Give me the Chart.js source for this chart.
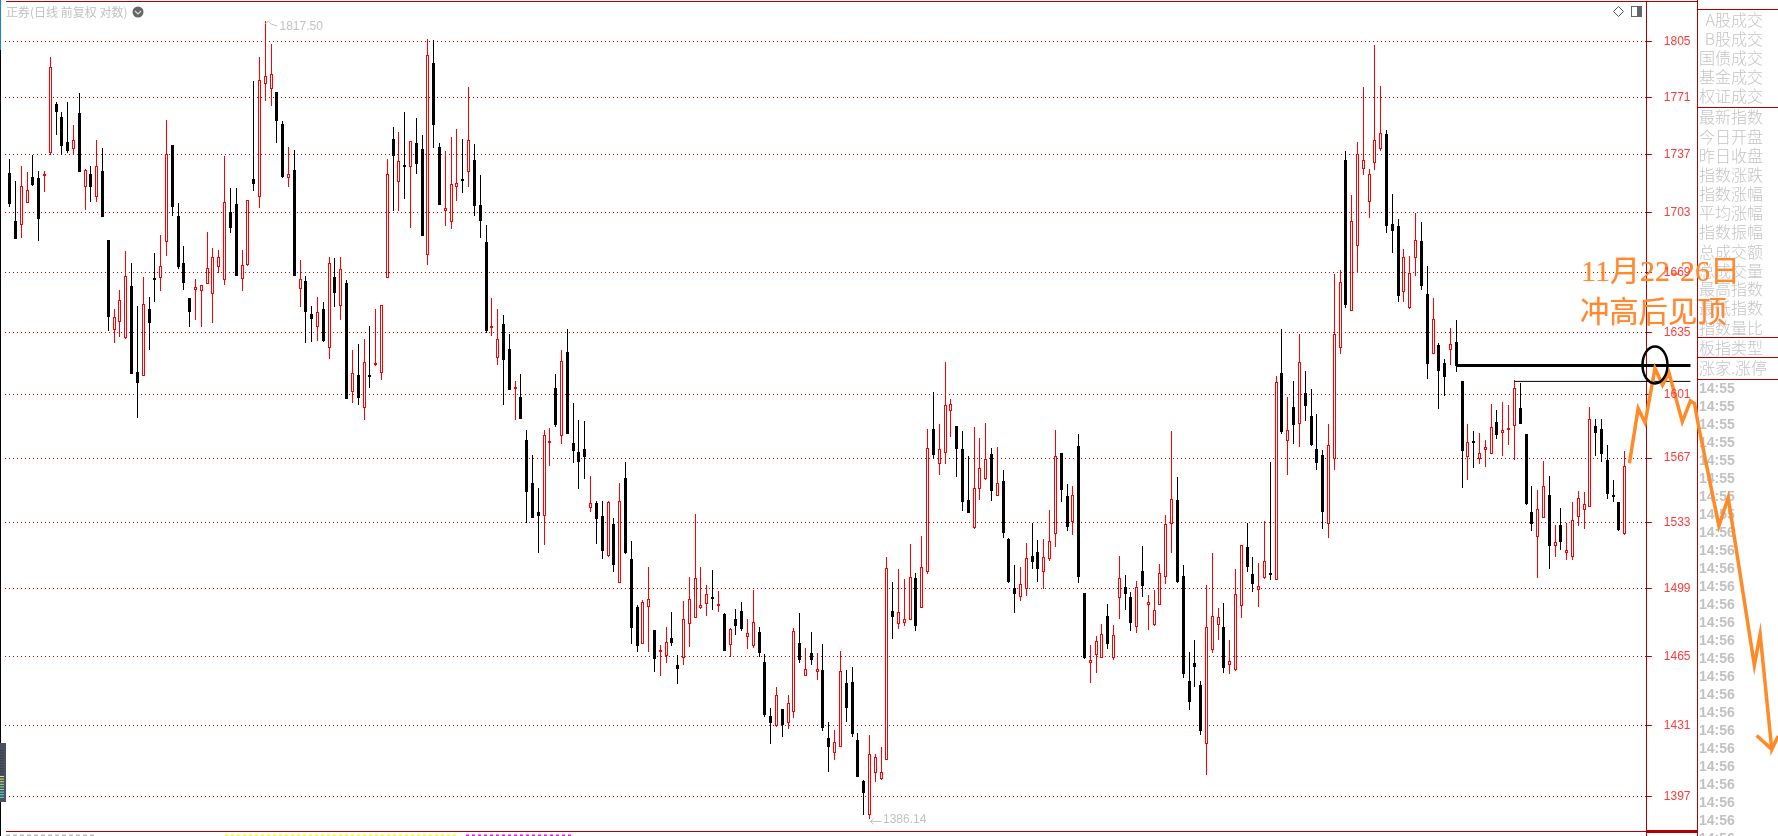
<!DOCTYPE html>
<html><head><meta charset="utf-8">
<script src="https://cdn.jsdelivr.net/npm/chart.js@4"></script>
<style>html,body{margin:0;padding:0;background:#fff;overflow:hidden}canvas{display:block}</style>
</head><body><canvas id="c" width="1778" height="836"></canvas>
<script>
const highs=[1734.3,1721.5,1730.2,1726.7,1736.9,1727.3,1727.3,1795.4,1768.2,1762.2,1768.2,1754.5,1773.6,1728.4,1730.2,1745.6,1740.8,1687.4,1648.3,1658.9,
1681.1,1674.2,1650,1666.3,1655,1679.9,1690.2,1757.5,1742.6,1708.7,1683.9,1654.4,1665.1,1661.8,1692,1682.8,1681.7,1736.1,1717.4,1717.4,
1681.7,1710.2,1780.9,1795.4,1817.5,1803.4,1774.4,1756.9,1741.4,1739.7,1675.9,1666.8,1650,1655,1652.2,1677.6,1677,1677.6,1664.6,1625.5,
1628.8,1631.6,1638.8,1648.3,1650.5,1734.3,1753.3,1750.3,1762.2,1744.8,1758.7,1748.5,1806.4,1805.8,1743.8,1739.1,1747.3,1752.1,1746.2,1777.2,
1743.2,1725,1696,1654.4,1648.3,1644.9,1634.3,1608.5,1612.3,1582,1568.6,1551.1,1582,1583,1612.3,1625.5,1637.1,1596.5,1587.4,1586.8,
1557.5,1544.3,1544.3,1544.3,1535.5,1553.8,1564.9,1523.5,1490.8,1493.3,1510.1,1478.2,1470.7,1479.7,1487.3,1465.7,1492.8,1505,1537.5,1510.1,
1500.9,1508.6,1497.9,1486.8,1479.2,1488.8,1492.3,1483.7,1498.4,1479.7,1466.2,1439.6,1449.9,1439.1,1445.9,1479.2,1486.8,1469.2,1477.2,1466.7,
1471.2,1432.7,1428.8,1467.7,1458.3,1459.7,1427.4,1404.8,1426.4,1417.3,1420.6,1515.3,1502.5,1509.1,1504,1522,1507.1,1526.1,1582.5,1602.5,
1585.2,1618.9,1598.6,1584.1,1581.4,1568.1,1583.7,1577.7,1585.7,1572.4,1572.9,1560.6,1525.1,1511.2,1510.1,1522.5,1532.9,1524.1,1524.6,1539.6,
1582,1569.7,1553.3,1552.2,1579.8,1496.8,1470.7,1475.2,1481.2,1491.3,1480.7,1515.8,1506,1497.4,1503,1521,1495.9,1498.4,1511.6,1537,
1581.4,1556.9,1511.2,1467.2,1473.2,1452.8,1500.9,1517.3,1489.3,1491.8,1473.2,1509.1,1521.5,1532.9,1515.3,1512.2,1533.9,1564.9,1611.2,1637.1,
1599.7,1608.5,1634.3,1613.9,1604.1,1590.6,1571.3,1585.2,1668,1670.2,1739.1,1713.3,1744.4,1777.2,1728.4,1802.8,1777.8,1751.5,1713.9,1699.4,
1682.2,1678.2,1702.9,1697.7,1672.5,1654.4,1629.4,1620.5,1637.7,1642.1,1608.5,1585.2,1581.4,1580.4,1576.6,1596,1592.7,1597,1595.4,1609,
1607.2,1579.8,1552.2,1550.1,1565.4,1557.5,1531.9,1540.6,1533,1543.8,1549.5,1549,1594.3,1587.9,1587.9,1574,1555.4,1543.8,1570.8];
const bodyTops=[1726.1,1698.3,1718.4,1716,1723.8,1723.2,1725,1789.1,1767,1759.3,1744.4,1745.4,1761.6,1728.2,1725.5,1730,1727.3,1687.4,1643.8,1653.1,
1666.6,1661.2,1613.4,1650.9,1648.3,1665.1,1672.3,1737.3,1742.6,1701.2,1674.5,1654.4,1660.8,1661.6,1671.2,1677.4,1677.6,1709.1,1703.5,1708.1,
1673,1710.2,1722.6,1781.3,1783.7,1784.9,1774.4,1755.1,1725.3,1727.9,1665,1664,1645.5,1646.4,1648.3,1674.3,1666.3,1670.6,1662.9,1612.7,
1611.7,1618.7,1611.2,1618.1,1650.3,1725.3,1746.2,1733,1730.8,1744.8,1743.8,1740.2,1796.4,1791.7,1741.4,1705.6,1719.5,1720.1,1722,1745.4,
1733.7,1707.5,1686.2,1638.2,1631.4,1639.9,1626,1605,1599.7,1576.6,1553.8,1538.6,1579.3,1576.1,1604.6,1619.2,1624.4,1575,1570.2,1571.8,
1543.1,1543.1,1536.5,1543.8,1532.3,1544.3,1556.4,1514.2,1489.8,1492.3,1493.6,1478.2,1468.2,1472,1474.2,1460.7,1483.5,1493.6,1504.3,1490.6,
1496.2,1494.8,1491.3,1486.2,1478.5,1483.7,1487.8,1476.5,1482,1477.2,1462.2,1435.7,1445.8,1439.1,1441.9,1477.7,1471.7,1458.6,1466.7,1458.6,
1458.3,1425,1422.9,1457.6,1451.9,1452.4,1424,1404.4,1417.1,1415.7,1408.5,1509.4,1487.6,1487.1,1483.5,1504.9,1504.3,1510,1572.2,1582.5,
1571.7,1595.4,1595.8,1584.1,1571.8,1544.8,1550.9,1561.5,1566.3,1569.2,1553.6,1554.8,1524.6,1499.4,1501.3,1514.6,1515.8,1517.9,1515.1,1523.4,
1567.9,1569.7,1546.9,1547.3,1573.4,1496.8,1463,1472.5,1476,1485.2,1475.5,1504.3,1499.9,1494.8,1499.7,1508.1,1492.1,1488.1,1506.9,1532.2,
1545.2,1544.8,1505.5,1452.8,1461.7,1450.9,1479.5,1485,1484.6,1479.7,1462.6,1496.2,1521.3,1520.5,1506.6,1500.3,1513,1506.6,1608.1,1612.7,
1581.8,1594.3,1618.7,1601.9,1589.5,1571.8,1568.6,1573.8,1634.3,1663.3,1733.7,1698.3,1737.1,1733.5,1725.3,1745.4,1749.5,1749.1,1696.6,1695.4,
1677.4,1668.3,1687.2,1686.8,1656.7,1642.5,1628.3,1618.1,1628.8,1630.1,1608.5,1575.4,1575.4,1569.5,1572.7,1583.4,1586.3,1582,1582.5,1604.5,
1593.6,1579.8,1538.6,1540,1552,1547.4,1522.9,1531.9,1518.9,1534.2,1545.7,1542.5,1587.7,1584.1,1582.5,1566,1546.9,1543.8,1562.8];
const bodyBottoms=[1708.3,1688.1,1696.2,1708.5,1719.1,1699.6,1724.6,1738.1,1762.2,1742.2,1739.1,1740.4,1726.7,1718.2,1718,1712.4,1700.6,1643.8,1636.7,1641.1,
1632.1,1612.3,1607.4,1611.4,1640.4,1664.6,1665.9,1686.4,1706.4,1671.9,1662.9,1646.6,1658.9,1658.6,1662.5,1656.9,1672.1,1664.8,1694.3,1666.8,
1665.3,1673.1,1719.7,1712.4,1779.3,1776.2,1756.9,1723.8,1723.4,1666.8,1659.7,1646.6,1642.7,1638.4,1630.5,1626.8,1657.3,1650.1,1598.6,1602.6,
1599.2,1594,1610.7,1617,1613,1665.9,1736.1,1721.1,1729.8,1729.8,1731.4,1689.7,1679,1754.5,1707.5,1704.3,1697.9,1717.8,1721.7,1726.9,
1706.9,1698.3,1636,1637.7,1621.3,1620,1603.6,1604.3,1587.9,1549.1,1535.5,1536.5,1536.5,1575,1584.7,1578.8,1579.8,1570.8,1564.9,1567.6,
1540.8,1534.9,1518.4,1515.8,1511.2,1502.1,1517.3,1479.2,1470.2,1471.4,1489.5,1463.7,1467.2,1465.4,1471.7,1458.8,1464.4,1481.4,1484.4,1489.3,
1491.5,1493.8,1490.3,1467.7,1470.9,1480.2,1478.5,1474.8,1470.2,1466.7,1436.2,1432.3,1430.6,1431.3,1432.1,1437.6,1463.2,1455.5,1463.2,1457.4,
1429.8,1420.6,1417.9,1420.8,1439.6,1426.9,1406.3,1398.6,1388.2,1408.3,1405.3,1414.6,1484.7,1481.4,1481.9,1483.4,1480.2,1489.4,1507.6,1568.6,
1563.6,1569.5,1592.4,1571.8,1543.8,1538.1,1530.3,1550.8,1555.9,1549.6,1546.9,1527.7,1502.5,1496.4,1494.8,1498.9,1512.7,1509.1,1507.7,1514.2,
1527.3,1550.1,1530.8,1533.4,1505,1464.2,1461.9,1465.7,1464.4,1471.2,1464.2,1494.5,1496.4,1481.7,1479.9,1500.4,1490.9,1480.7,1490.9,1505.2,
1532.2,1502.5,1456.3,1442.5,1459.7,1428.3,1421.9,1468.2,1480.9,1459.2,1460.9,1458.3,1490.4,1510.1,1501.2,1498.6,1504.3,1506,1503.7,1580.9,
1576.3,1584.7,1585,1594.9,1574,1564.4,1538.6,1532.1,1566.3,1626.8,1650.5,1647.3,1683.8,1728.4,1709.4,1732.2,1740.2,1695.4,1692.5,1655.6,
1658,1648.8,1677.2,1661.2,1617.8,1623.5,1613.9,1610.8,1625.5,1616.7,1570.8,1567.4,1575,1566.3,1571.5,1569.3,1579.3,1580.5,1582.1,1584.3,
1585.2,1542.9,1532.3,1525.8,1535.6,1521,1521.1,1523,1517.3,1515.1,1536.2,1539.8,1541,1580.5,1569.2,1548,1546.4,1529.2,1527.1];
const lows=[1706.6,1688.1,1688.5,1708.5,1718.5,1687,1715,1736.9,1748.5,1736.6,1737.8,1736.6,1726.7,1704.6,1709.3,1709.3,1700.6,1636,1629.4,1632.7,
1631.6,1612.3,1588.4,1611.4,1625.5,1652.2,1658.2,1678.2,1701.2,1670.8,1658.9,1638.2,1642.1,1638.2,1662.3,1640.4,1668.5,1661.8,1691.4,1666.8,
1658.2,1672.5,1715.6,1705.8,1768.8,1765.8,1743.8,1723.2,1718,1666.8,1649.4,1629.4,1629.9,1630.5,1629.9,1620.5,1649.4,1642.1,1598.6,1596.5,
1595.4,1587.4,1604.6,1616.7,1609,1665.9,1704,1704,1710.9,1694.3,1725.5,1689.7,1673.1,1740.8,1707.5,1695.4,1693.7,1709.8,1714.5,1718,
1701.2,1688.5,1635.1,1633.2,1617.2,1595.4,1603.6,1587.4,1587.9,1533,1535.5,1517.3,1521.5,1562.8,1583.6,1574.5,1579.8,1564.4,1550.6,1555.9,
1538.6,1522,1514.2,1515.3,1507.6,1502.1,1516.8,1471.2,1467.2,1471.2,1467.2,1457.3,1455.3,1461.7,1470.2,1451.4,1460.7,1469.7,1484.2,1488.8,
1485.2,1488.3,1487.3,1467.7,1464.7,1475.7,1477.7,1468.7,1469.2,1464.7,1435.2,1422.1,1430.3,1425.4,1429.3,1434.7,1461.7,1455.3,1460.7,1453.3,
1428.3,1408.6,1414.4,1420.6,1432.7,1425.4,1406.3,1388.2,1386.14,1403.9,1404.8,1414.6,1473.7,1478.7,1480.2,1483.2,1477.7,1489.3,1506.6,1566.5,
1558,1563.8,1578.3,1556.9,1539.1,1538.1,1529.8,1544.8,1555.4,1544.3,1546.9,1525.1,1501.9,1486.8,1492.8,1495.3,1509.1,1502.5,1498.9,1513.2,
1520.4,1543.8,1528.7,1526.6,1501.9,1463.7,1451.9,1456.8,1464.4,1468.7,1463.2,1483.7,1488.3,1477.7,1476.7,1494.8,1478.2,1480.2,1490.9,1501.4,
1517.3,1501.9,1454.3,1438.6,1449.9,1426.4,1407.3,1466.7,1473.2,1456.8,1456.3,1457.8,1484.2,1507.6,1497.4,1489.8,1503.9,1503.5,1503.7,1579.8,
1558,1574.5,1572.9,1586.8,1573.4,1560.6,1529.8,1525.1,1560.6,1623.3,1648.8,1647.3,1668.5,1725,1700,1727.9,1739.1,1691.4,1679.7,1652.2,
1652.2,1648.4,1666.8,1658.9,1609.8,1623.3,1593.2,1600.3,1617.2,1613.4,1551.1,1555.4,1561.7,1563.8,1562.2,1569.3,1577.2,1568.1,1574,1566,
1585.2,1542.2,1528.7,1504.5,1535.6,1509.1,1515.3,1518.9,1513.7,1513.7,1531.3,1529.8,1541,1568.1,1564.9,1545.3,1543.8,1528.7,1526.4];
const rising=[0,0,1,1,0,0,1,1,0,0, 0,1,0,1,0,1,0,0,1,1, 1,0,0,1,0,0,1,1,0,0, 0,0,1,1,1,1,1,1,0,0, 1,1,0,1,1,1,0,0,1,0,
1,0,0,1,0,1,0,1,0,1, 0,1,0,1,1,1,0,1,0,1, 0,0,1,0,0,1,1,1,0,1, 0,0,0,1,1,0,0,1,0,0, 0,0,1,1,0,1,0,0,0,0,
1,0,0,1,0,1,0,0,0,1, 1,0,1,1,0,0,1,1,1,1, 1,0,1,0,1,0,0,1,1,0, 0,0,1,0,1,1,0,1,0,1, 0,0,1,1,0,0,0,0,1,1,
1,1,0,1,1,1,0,1,1,0, 1,1,1,0,0,0,1,1,1,0, 1,0,0,0,1,1,0,0,1,1, 1,0,0,1,0,0,1,1,1,0, 1,1,0,0,1,0,1,1,1,1,
1,0,0,0,0,0,1,1,1,0, 1,1,1,0,0,1,1,0,1,0, 1,0,1,0,0,0,0,1,1,1, 0,1,1,1,1,1,1,0,0,0, 1,1,1,0,0,1,0,0,1,0,
0,1,0,1,1,1,0,1,1,1, 0,0,0,1,1,0,1,0,1,1, 1,1,1,0,0,0,0,0,1];
const priceTicks=[1805,1771,1737,1703,1669,1635,1601,1567,1533,1499,1465,1431,1397];
const sidePanelLabels=['A股成交','B股成交','国债成交','基金成交','权证成交','最新指数','今日开盘','昨日收盘','指数涨跌','指数涨幅','平均涨幅','指数振幅','总成交额','总成交量','最高指数','最低指数','指数量比','板指类型','涨家.涨停'];
const sideTimes=['14:55','14:55','14:55','14:55','14:55','14:55','14:55','14:55','14:56','14:56','14:56','14:56','14:56','14:56','14:56','14:56','14:56','14:56','14:56','14:56','14:56','14:56','14:56','14:56','14:56','14:56'];
const forecastX=[278.8,280.3,281.5,283.2,284.5,285.6,287.9,289.3,290,290.7,294.2,295.8,300.3,301.3,303.3,304.4];
const forecastY=[1564.2,1593.6,1585.9,1615.4,1606.3,1613,1586.4,1597.7,1596.3,1584.1,1531.3,1546,1460.6,1476,1419.5,1425.9];
const arrowX=[300.7,303.3];
const arrowY=[1426.2,1419.5];
const thickLineX=[249,289.3], thickLineY=[1617,1617];
const thinLineX=[259,289.3], thinLineY=[1608.3,1608.3];
const titleText='正券(日线 前复权 对数)';
const noteLines=['11月22-26日','冲高后见顶'];
const highLabel='1817.50', lowLabel='1386.14';

const RED='#ff0000', DARK='#b00000', GREY='#c2c2c2', ORANGE='#ff8a26';
const idx=highs.map((_,i)=>i);
const pts=(xs,ys)=>xs.map((x,i)=>({x,y:ys[i]}));
const PX_LEFT=5, PX_AXIS=1646.8, PX_PANEL=1697.6;
const X0=9.6, DX=5.81;
const xLo=(PX_LEFT-X0)/DX, xHi=(PX_AXIS-X0)/DX;

const snapBars={id:'snapBars',beforeDatasetsDraw(chart){
  chart.getSortedVisibleDatasetMetas().forEach(m=>{
    if(m.type!=='bar')return;
    m.data.forEach(el=>{
      el.x=Math.floor(el.x)+0.5;
      let y=Math.round(el.y), b=Math.round(el.base);
      if(Math.abs(b-y)<2&&m.order===1){b=y+2;}
      if(Math.abs(b-y)<1){b=y+1;}
      el.y=y;el.base=b;
    });
  });
}};
function txt(ctx,s,x,y,font,color,align){ctx.font=font;ctx.fillStyle=color;ctx.textAlign=align||'left';ctx.textBaseline='middle';ctx.fillText(s,x,y);}
function hl(ctx,x1,x2,y,w,c){ctx.fillStyle=c;ctx.fillRect(x1,y,x2-x1,w);}
const backdrop={id:'backdrop',beforeDatasetsDraw(chart){
  const ctx=chart.ctx;ctx.save();
  // frame
  hl(ctx,6,1698,1,1,DARK);
  hl(ctx,6,1698,831,1,DARK);
  hl(ctx,1647,1698,830,3,DARK);
  ctx.fillStyle=DARK;ctx.fillRect(1697,0,1,836);
  ctx.fillRect(1646,831,1,5);
  [9,107,337,357,379].forEach(y=>hl(ctx,1697,1778,y,1,DARK));
  // left edge
  ctx.fillStyle='#1d7fd6';ctx.fillRect(0,0,1,50);
  ctx.fillStyle='#000';ctx.fillRect(0,50,1,786);
  ctx.fillStyle='#4b5160';ctx.fillRect(0,743,6,59);
  ['#3a3f4a','#3a3f4a','#3a3f4a','#3a3f4a','#3a3f4a','#3a3f4a','#3a3f4a','#3a3f4a','#3a3f4a','#3a3f4a','#e8e860','#d8e870','#c0e880','#a8e890','#90e8a0','#78e8b0','#60e8c0','#50e8d0','#50e8d0'].forEach((c,i)=>{ctx.fillStyle=c;ctx.fillRect(0,750+i*2.6,4,1);});
  // title and icons
  txt(ctx,titleText,6,12,'12px "Noto Sans CJK SC"',GREY);
  ctx.fillStyle='#666';ctx.beginPath();ctx.arc(138,12,5.5,0,Math.PI*2);ctx.fill();
  ctx.strokeStyle='#ddd';ctx.lineWidth=1.2;ctx.beginPath();ctx.moveTo(135,11);ctx.lineTo(138,14);ctx.lineTo(141,11);ctx.stroke();
  ctx.strokeStyle='#555';ctx.lineWidth=1;
  ctx.beginPath();ctx.moveTo(1618.5,6.5);ctx.lineTo(1623.5,11.5);ctx.lineTo(1618.5,16.5);ctx.lineTo(1613.5,11.5);ctx.closePath();ctx.stroke();
  ctx.strokeStyle='#666';ctx.strokeRect(1631.5,6.5,10,10);ctx.fillStyle='#666';ctx.fillRect(1637,7,4,9);
  // side panel
  const rowY=[20,39,58,77,96,117,137,156,175,194,213,232,252,271,289,308,328,348,368];
  sidePanelLabels.forEach((s,i)=>{
    if(i===sidePanelLabels.length-1) txt(ctx,s,1699,rowY[i],'200 16px "Noto Sans CJK SC"','#c4c4c4');
    else txt(ctx,s,1763,rowY[i],'200 16px "Noto Sans CJK SC"','#c4c4c4','right');
  });
  sideTimes.forEach((s,i)=>txt(ctx,s,1699,389.5+i*18,'bold 14px "Liberation Sans"','#c2c2c2'));
  // cut-off status strip along the bottom edge
  ctx.lineWidth=2;
  [[6,95,'#bdbdbd',[4,3]],[225,458,'#ffff00',[3,3]],[466,572,'#ff00ff',[3,3]]].forEach(([a,b,c,d])=>{ctx.strokeStyle=c;ctx.setLineDash(d);ctx.beginPath();ctx.moveTo(a,835.5);ctx.lineTo(b,835.5);ctx.stroke();});
  ctx.setLineDash([]);
  ctx.restore();
}};
const notes={id:'notes',afterDatasetsDraw(chart){
  const ctx=chart.ctx,xs=chart.scales.x,ys=chart.scales.y;ctx.save();
  // extreme labels
  const hx=xs.getPixelForValue(44),hy=ys.getPixelForValue(1817.5);
  ctx.strokeStyle=GREY;ctx.lineWidth=1;ctx.beginPath();ctx.moveTo(hx,hy+3);ctx.lineTo(hx+3,hy);ctx.lineTo(hx+6,hy+3);ctx.lineTo(hx+12,hy+5);ctx.stroke();
  txt(ctx,highLabel,279.5,27,'12px "Liberation Sans"',GREY);
  const lx=xs.getPixelForValue(148),ly=ys.getPixelForValue(1386.14);
  ctx.beginPath();ctx.moveTo(lx+1,ly+2);ctx.lineTo(lx+12,ly+2);ctx.moveTo(lx+1,ly+2);ctx.lineTo(lx+4,ly-1);ctx.moveTo(lx+1,ly+2);ctx.lineTo(lx+4,ly+5);ctx.stroke();
  txt(ctx,lowLabel,883,820,'12px "Liberation Sans"',GREY);
  // note text
  ctx.save();ctx.shadowColor='rgba(255,150,170,.8)';ctx.shadowBlur=1;
  txt(ctx,noteLines[0],1581,273,'30px "Liberation Serif","Noto Sans CJK SC"',ORANGE);
  txt(ctx,noteLines[1],1580,311,'29.3px "Noto Sans CJK SC"',ORANGE);
  ctx.restore();
  // circled spot
  const cx=xs.getPixelForValue(283.2),cy=ys.getPixelForValue(1617.3);
  ctx.strokeStyle='#000';ctx.lineWidth=2.5;ctx.beginPath();ctx.ellipse(cx,cy,12.5,18.5,0,0,Math.PI*2);ctx.stroke();
  ctx.restore();
}};
const lineSet=(xs,ys,color,w,order)=>({type:'line',data:pts(xs,ys),borderColor:color,borderWidth:w,pointRadius:0,tension:0,clip:false,order,borderJoinStyle:'miter',borderCapStyle:'butt',parsing:{xAxisKey:'x',yAxisKey:'y'}});
new Chart(document.getElementById('c'),{
  data:{datasets:[
    {type:'bar',label:'wick',order:2,grouped:false,barThickness:1,inflateAmount:0,borderWidth:0,
      data:idx.map(i=>({x:i,y:[lows[i],highs[i]]})),backgroundColor:idx.map(i=>rising[i]?RED:'#000')},
    {type:'bar',label:'body',order:1,grouped:false,barThickness:3,inflateAmount:0,borderSkipped:false,minBarLength:2,
      data:idx.map(i=>({x:i,y:[bodyBottoms[i],bodyTops[i]]})),
      backgroundColor:idx.map(i=>rising[i]?'#fff':'#000'),borderColor:idx.map(i=>rising[i]?RED:'#000'),borderWidth:1},
    lineSet(thickLineX,thickLineY,'#000',3,-1),
    lineSet(thinLineX,thinLineY,'#000',1,-1),
    lineSet(forecastX,forecastY,ORANGE,3.5,-2),
    lineSet(arrowX,arrowY,ORANGE,3.5,-2)
  ]},
  options:{
    responsive:false,animation:false,devicePixelRatio:1,
    layout:{padding:{left:PX_LEFT,right:1778-PX_PANEL,top:1.5,bottom:5}},
    plugins:{legend:{display:false},tooltip:{enabled:false},title:{display:false}},
    events:[],
    scales:{
      x:{type:'linear',display:false,offset:false,bounds:'data',
        afterDataLimits(s){s.min=xLo;s.max=xHi;},grid:{display:false}},
      y:{type:'logarithmic',position:'right',min:1380.7,max:1829.6,bounds:'data',
        afterBuildTicks(s){s.ticks=priceTicks.map(v=>({value:v}));},
        afterFit(s){s.width=PX_PANEL-PX_AXIS;s.paddingTop=0;s.paddingBottom=0;},
        border:{display:true,color:DARK,width:1,dash:[1,3]},
        grid:{color:'#c40000',lineWidth:1,tickLength:5,tickColor:DARK,tickBorderDash:[],tickWidth:1},
        ticks:{z:1,autoSkip:false,maxRotation:0,padding:12,color:'#ff3b3b',font:{family:'"Liberation Sans"',size:12},callback:v=>String(v)}}
    }
  },
  plugins:[snapBars,backdrop,notes]
});
</script></body></html>
